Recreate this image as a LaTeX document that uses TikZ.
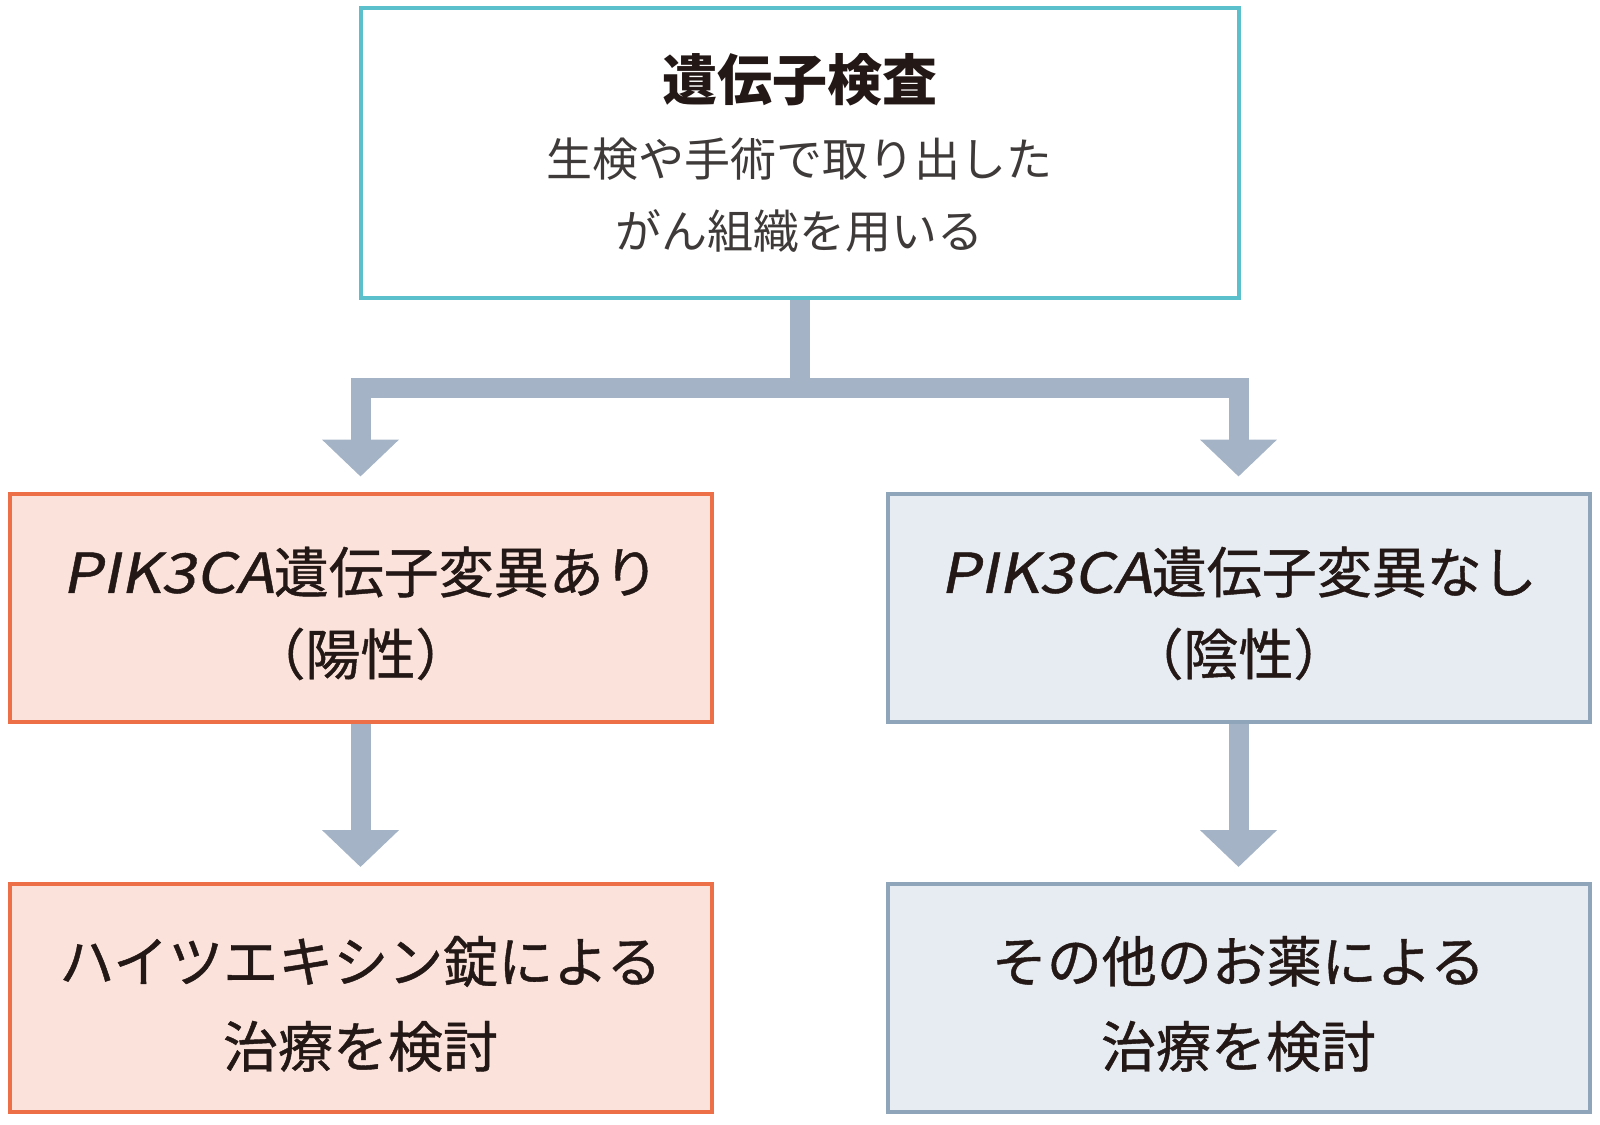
\documentclass[tikz,border=0pt]{standalone}
\usepackage{fontspec}
\usepackage{xcolor}
\usepackage{tikz}
\usetikzlibrary{arrows.meta,positioning}
\setmainfont{Noto Sans CJK JP}
\newfontfamily\boxfont[FakeBold=0.8]{Noto Sans CJK JP}
\newfontfamily\pikfont[FakeSlant=0.2,FakeStretch=1.14,FakeBold=0.8]{Noto Sans CJK JP}
\newcommand{\topstrut}[1]{\rule{0pt}{#1}}
\definecolor{testline}{HTML}{5BC0CB}
\definecolor{flowgray}{HTML}{A4B4C6}
\definecolor{posfill}{HTML}{FBE2DB}
\definecolor{posline}{HTML}{EC6F48}
\definecolor{negfill}{HTML}{E6ECF1}
\definecolor{negline}{HTML}{8FA5BA}
\definecolor{inkjp}{HTML}{231815}
\definecolor{inksub}{HTML}{3E3A39}
\tikzset{
  resbox/.style={
      draw,
      line width=2pt,
      align=center,
      text=inkjp,
      minimum width=351pt,
      minimum height=114pt,
      font=\boxfont\fontsize{27.5}{41}\selectfont
    },
  posbox/.style={resbox, draw=posline, fill=posfill},
  negbox/.style={resbox, draw=negline, fill=negfill},
  flowline/.style={
      draw=flowgray,
      line width=10pt,
      line join=miter
    },
  flowarrow/.style={
      flowline,
      -{Triangle[width=37.5pt,length=18.5pt]},
      shorten >=7.5pt
    }
}
\begin{document}
\begin{tikzpicture}[x=0.5pt,y=-0.5pt]
\useasboundingbox (0,0) rectangle (1600,1124);
% the shapes
\node[draw=testline,line width=2pt,align=center,text=inksub,
  minimum width=439pt,minimum height=145pt,
  font=\fontsize{23}{36}\selectfont]
  at (799.5,153) (test)
  {{\fontsize{27.5}{39}\selectfont\bfseries\color{inkjp}遺伝子検査}\\[2pt]
   生検や手術で取り出した\\がん組織を用いる};
\node[posbox] at (360.5,607.5) (pos)
  {\topstrut{29pt}{\pikfont PIK3CA}遺伝子変異あり\\（陽性）};
\node[negbox] at (1238.5,607.5) (neg)
  {\topstrut{29pt}{\pikfont PIK3CA}遺伝子変異なし\\（陰性）};
\node[posbox] at (360.5,998) (posrx)
  {\topstrut{29pt}ハイツエキシン錠による\\[1.5pt]治療を検討};
\node[negbox] at (1238.5,998) (negrx)
  {\topstrut{29pt}その他のお薬による\\[1.5pt]治療を検討};

%the arrows
\coordinate (split) at (799.5,387.5);
\draw[flowline] (test.south) -- (split);
\draw[flowarrow] (split) -| (pos.north);
\draw[flowarrow] (split) -| (neg.north);
\draw[flowarrow] (pos.south) -- (posrx.north);
\draw[flowarrow] (neg.south) -- (negrx.north);
\end{tikzpicture}
\end{document}
